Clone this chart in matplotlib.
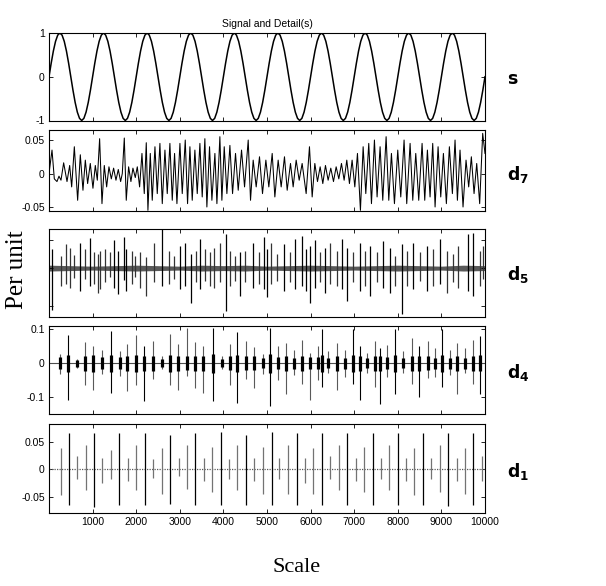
import numpy as np
import matplotlib
matplotlib.use("Agg")
import matplotlib.pyplot as plt

# ---------------- data ----------------
x_ticks = [1000, 2000, 3000, 4000, 5000, 6000, 7000, 8000, 9000, 10000]
x_ticklabels = ["1000", "2000", "3000", "4000", "5000", "6000", "7000", "8000", "9000", "10000"]

# s : sampled every 50 samples
s_step = 50
s_values = (
    [0.000, 0.309, 0.588, 0.809, 0.951, 1.000, 0.951, 0.809, 0.588, 0.309,
     0.000, -0.309, -0.588, -0.809, -0.951, -1.000, -0.951, -0.809, -0.588, -0.309] +
    [0.000, 0.309, 0.588, 0.809, 0.951, 1.000, 0.951, 0.809, 0.588, 0.309,
     0.000, -0.309, -0.588, -0.809, -0.951, -1.000, -0.951, -0.809, -0.588, -0.309] +
    [0.000, 0.309, 0.588, 0.809, 0.951, 1.000, 0.951, 0.809, 0.588, 0.309,
     0.000, -0.309, -0.588, -0.809, -0.951, -1.000, -0.951, -0.809, -0.588, -0.309] +
    [0.000, 0.309, 0.588, 0.809, 0.951, 1.000, 0.951, 0.809, 0.588, 0.309,
     0.000, -0.309, -0.588, -0.809, -0.951, -1.000, -0.951, -0.809, -0.588, -0.309] +
    [0.000, 0.309, 0.588, 0.809, 0.951, 1.000, 0.951, 0.809, 0.588, 0.309,
     0.000, -0.309, -0.588, -0.809, -0.951, -1.000, -0.951, -0.809, -0.588, -0.309] +
    [0.000, 0.309, 0.588, 0.809, 0.951, 1.000, 0.951, 0.809, 0.588, 0.309,
     0.000, -0.309, -0.588, -0.809, -0.951, -1.000, -0.951, -0.809, -0.588, -0.309] +
    [0.000, 0.309, 0.588, 0.809, 0.951, 1.000, 0.951, 0.809, 0.588, 0.309,
     0.000, -0.309, -0.588, -0.809, -0.951, -1.000, -0.951, -0.809, -0.588, -0.309] +
    [0.000, 0.309, 0.588, 0.809, 0.951, 1.000, 0.951, 0.809, 0.588, 0.309,
     0.000, -0.309, -0.588, -0.809, -0.951, -1.000, -0.951, -0.809, -0.588, -0.309] +
    [0.000, 0.309, 0.588, 0.809, 0.951, 1.000, 0.951, 0.809, 0.588, 0.309,
     0.000, -0.309, -0.588, -0.809, -0.951, -1.000, -0.951, -0.809, -0.588, -0.309] +
    [0.000, 0.309, 0.588, 0.809, 0.951, 1.000, 0.951, 0.809, 0.588, 0.309,
     0.000, -0.309, -0.588, -0.809, -0.951, -1.000, -0.951, -0.809, -0.588, -0.309] +
    [0.000]
)

# d7 : extrema positions (samples) and values
d7_x = [0, 69, 122, 183, 229, 275, 336, 413, 474, 520, 581, 657, 718, 779, 833, 886, 947,
        1008, 1062, 1108, 1161, 1215, 1268, 1322, 1375, 1429, 1482, 1536, 1589, 1643, 1681,
        1727, 1772, 1826, 1879, 1925, 1979, 2025, 2078, 2132, 2185, 2231, 2269, 2323, 2368,
        2430, 2483, 2544, 2598, 2659, 2712, 2773, 2827, 2880, 2934, 3003, 3056, 3125, 3178,
        3232, 3285, 3346, 3400, 3461, 3514, 3575, 3621, 3682, 3736, 3805, 3851, 3919, 3965,
        4019, 4080, 4149, 4210, 4278, 4340, 4416, 4485, 4569, 4622, 4683, 4752, 4828, 4897,
        4974, 5042, 5119, 5180, 5256, 5325, 5401, 5463, 5539, 5600, 5669, 5738, 5806, 5898,
        5974, 6036, 6097, 6158, 6219, 6280, 6341, 6402, 6463, 6525, 6586, 6647, 6708, 6769,
        6830, 6891, 6952, 7014, 7075, 7143, 7205, 7266, 7334, 7396, 7464, 7525, 7594, 7655,
        7732, 7793, 7854, 7923, 7999, 8068, 8144, 8205, 8282, 8343, 8412, 8480, 8557, 8618,
        8679, 8740, 8801, 8855, 8924, 8985, 9046, 9114, 9183, 9252, 9313, 9367, 9427, 9496,
        9565, 9626, 9687, 9749, 9810, 9878, 9947, 10000]
d7_y = [0.0, 0.035, -0.008, -0.012, -0.004, -0.010, 0.016, -0.012, 0.012, -0.020, 0.040,
        -0.040, 0.028, -0.025, 0.020, -0.015, 0.015, -0.022, 0.012, -0.010, 0.052, -0.045,
        0.012, -0.020, 0.010, -0.008, 0.008, -0.010, 0.006, -0.012, 0.000, 0.053, -0.040,
        0.010, -0.012, 0.008, -0.006, 0.010, -0.020, 0.030, -0.030, 0.046, -0.055, 0.030,
        -0.040, 0.040, -0.030, 0.045, -0.045, 0.035, -0.030, 0.045, -0.040, 0.030, -0.045,
        0.045, -0.030, 0.050, -0.045, 0.040, -0.040, 0.035, -0.030, 0.045, -0.035, 0.052,
        -0.050, 0.040, -0.040, 0.030, -0.045, 0.055, -0.040, 0.040, -0.030, 0.042, -0.030,
        0.030, -0.025, 0.035, -0.020, 0.050, -0.040, 0.020, -0.020, 0.025, -0.030, 0.020,
        -0.020, 0.030, -0.035, 0.020, -0.020, 0.025, -0.025, 0.015, -0.020, 0.020, -0.010,
        0.015, -0.030, 0.040, -0.035, 0.015, -0.012, 0.010, -0.015, 0.012, -0.010, 0.008,
        -0.012, 0.010, -0.008, 0.015, -0.010, 0.020, -0.015, 0.020, -0.020, 0.030, -0.055,
        0.040, -0.030, 0.045, -0.045, 0.050, -0.035, 0.040, -0.040, 0.055, -0.040, 0.030,
        -0.045, 0.035, -0.035, 0.050, -0.045, 0.045, -0.040, 0.030, -0.040, 0.045, -0.040,
        0.035, -0.035, 0.045, -0.050, 0.040, -0.035, 0.030, -0.045, 0.040, -0.030, 0.050,
        -0.040, 0.035, -0.050, 0.020, -0.020, 0.025, -0.030, 0.015, -0.045, 0.060, 0.030]

# d5 : background amplitude (every 500 samples) and spikes
d5_band_step = 500
d5_band = [0.006, 0.005, 0.004, 0.005, 0.006, 0.005, 0.004, 0.006, 0.005, 0.006, 0.004,
           0.005, 0.006, 0.005, 0.004, 0.005, 0.006, 0.005, 0.004, 0.006, 0.005]
d5_x = [69, 275, 397, 489, 581, 718, 833, 932, 1039, 1115, 1177, 1291, 1406, 1497, 1574,
        1727, 1772, 1902, 1979, 2093, 2231, 2399, 2582, 2743, 2857, 3010, 3125, 3255, 3377,
        3469, 3583, 3682, 3774, 3927, 4064, 4156, 4271, 4385, 4500, 4676, 4806, 4920, 4997,
        5088, 5226, 5379, 5531, 5631, 5799, 5898, 5990, 6104, 6219, 6334, 6448, 6601, 6716,
        6830, 6983, 7136, 7250, 7365, 7518, 7671, 7823, 7938, 8091, 8205, 8358, 8511, 8664,
        8817, 8969, 9122, 9260, 9390, 9619, 9734, 9886, 9962]
d5_top = [0.040, 0.024, 0.049, 0.042, 0.027, 0.052, 0.040, 0.062, 0.033, 0.029, 0.035,
          0.039, 0.032, 0.057, 0.035, 0.064, 0.039, 0.035, 0.024, 0.032, 0.022, 0.051,
          0.079, 0.035, 0.025, 0.045, 0.052, 0.029, 0.035, 0.059, 0.039, 0.032, 0.042,
          0.051, 0.069, 0.035, 0.025, 0.032, 0.035, 0.052, 0.032, 0.064, 0.039, 0.051,
          0.029, 0.049, 0.032, 0.059, 0.065, 0.039, 0.045, 0.057, 0.032, 0.042, 0.052,
          0.035, 0.059, 0.042, 0.032, 0.052, 0.035, 0.045, 0.032, 0.055, 0.042, 0.025,
          0.049, 0.035, 0.052, 0.032, 0.045, 0.039, 0.059, 0.035, 0.029, 0.045, 0.069,
          0.072, 0.035, 0.045]
d5_bot = [-0.086, -0.036, -0.033, -0.040, -0.021, -0.047, -0.022, -0.036, -0.033, -0.050,
          -0.043, -0.029, -0.019, -0.040, -0.053, -0.024, -0.047, -0.033, -0.019, -0.040,
          -0.058, -0.029, -0.036, -0.033, -0.022, -0.043, -0.036, -0.071, -0.029, -0.043,
          -0.026, -0.036, -0.040, -0.029, -0.088, -0.036, -0.026, -0.057, -0.029, -0.040,
          -0.033, -0.043, -0.060, -0.033, -0.026, -0.047, -0.029, -0.043, -0.036, -0.047,
          -0.071, -0.040, -0.029, -0.050, -0.033, -0.036, -0.043, -0.067, -0.029, -0.047,
          -0.036, -0.057, -0.029, -0.040, -0.050, -0.036, -0.093, -0.036, -0.043, -0.026,
          -0.047, -0.036, -0.033, -0.050, -0.029, -0.040, -0.047, -0.057, -0.036, -0.022]

# d4 : bursts (position, tall spike top, tall spike bottom, core half-height)
d4_x = [252, 443, 650, 826, 1017, 1208, 1422, 1629, 1797, 1996, 2179, 2393, 2585, 2776,
        2967, 3158, 3349, 3541, 3755, 3962, 4152, 4320, 4519, 4703, 4902, 5058, 5241, 5432,
        5608, 5799, 5990, 6181, 6257, 6410, 6601, 6792, 6983, 7136, 7289, 7480, 7594, 7747,
        7938, 8129, 8320, 8496, 8687, 8855, 9008, 9198, 9351, 9542, 9734, 9886]
d4_top = [0.027, 0.082, 0.012, 0.064, 0.052, 0.040, 0.094, 0.037, 0.057, 0.082, 0.052,
          0.067, 0.022, 0.087, 0.057, 0.105, 0.062, 0.052, 0.105, 0.022, 0.057, 0.092,
          0.067, 0.047, 0.027, 0.105, 0.050, 0.060, 0.040, 0.070, 0.030, 0.050, 0.100,
          0.035, 0.060, 0.040, 0.100, 0.050, 0.030, 0.065, 0.045, 0.055, 0.100, 0.035,
          0.075, 0.050, 0.065, 0.045, 0.100, 0.040, 0.060, 0.045, 0.070, 0.080]
d4_bot = [-0.033, -0.110, -0.013, -0.063, -0.078, -0.033, -0.088, -0.038, -0.083, -0.063,
          -0.113, -0.048, -0.018, -0.063, -0.078, -0.038, -0.073, -0.088, -0.113, -0.018,
          -0.063, -0.118, -0.048, -0.073, -0.033, -0.125, -0.050, -0.090, -0.035, -0.060,
          -0.110, -0.050, -0.070, -0.030, -0.080, -0.040, -0.060, -0.110, -0.030, -0.070,
          -0.120, -0.040, -0.090, -0.030, -0.060, -0.100, -0.045, -0.040, -0.070, -0.035,
          -0.090, -0.030, -0.060, -0.090]
d4_core = [0.018, 0.025, 0.010, 0.022, 0.025, 0.018, 0.025, 0.018, 0.022, 0.025, 0.022,
           0.022, 0.012, 0.025, 0.022, 0.020, 0.022, 0.022, 0.028, 0.012, 0.020, 0.025,
           0.020, 0.020, 0.015, 0.028, 0.018, 0.022, 0.016, 0.022, 0.018, 0.018, 0.025,
           0.015, 0.022, 0.016, 0.025, 0.022, 0.014, 0.022, 0.022, 0.018, 0.025, 0.015,
           0.022, 0.022, 0.020, 0.016, 0.025, 0.016, 0.022, 0.016, 0.022, 0.024]

# d1 : spikes (position, top, bottom)
d1_x = [268, 466, 650, 841, 1032, 1224, 1415, 1614, 1805, 1996, 2195, 2393, 2585, 2776,
        2975, 3158, 3357, 3556, 3747, 3938, 4129, 4320, 4519, 4710, 4902, 5108, 5284, 5490,
        5682, 5873, 6064, 6255, 6446, 6653, 6844, 7035, 7226, 7440, 7616, 7807, 7998, 8190,
        8381, 8587, 8763, 8970, 9161, 9352, 9543, 9734, 9925]
d1_top = [0.038, 0.066, 0.024, 0.044, 0.066, 0.021, 0.035, 0.066, 0.021, 0.044, 0.066,
          0.018, 0.038, 0.062, 0.021, 0.044, 0.066, 0.021, 0.040, 0.068, 0.018, 0.044,
          0.062, 0.021, 0.041, 0.068, 0.021, 0.044, 0.066, 0.021, 0.038, 0.066, 0.024,
          0.044, 0.066, 0.021, 0.041, 0.066, 0.021, 0.044, 0.066, 0.021, 0.038, 0.066,
          0.021, 0.044, 0.066, 0.021, 0.038, 0.066, 0.024]
d1_bot = [-0.047, -0.064, -0.018, -0.038, -0.068, -0.024, -0.018, -0.065, -0.021, -0.038,
          -0.065, -0.015, -0.044, -0.062, -0.012, -0.035, -0.065, -0.021, -0.041, -0.065,
          -0.018, -0.038, -0.065, -0.021, -0.044, -0.065, -0.018, -0.044, -0.064, -0.024,
          -0.044, -0.065, -0.018, -0.038, -0.065, -0.021, -0.041, -0.064, -0.018, -0.038,
          -0.065, -0.021, -0.047, -0.065, -0.018, -0.041, -0.066, -0.021, -0.044, -0.065,
          -0.021]

# ---------------- figure ----------------
W, H = 606, 586
fig = plt.figure(figsize=(W / 100, H / 100), dpi=100)

left_px, right_px = 49, 485
panels_px = [(33, 120.5), (130, 211), (229, 317), (326, 414), (424, 513)]


def make_ax(top, bot):
    return fig.add_axes([left_px / W, 1 - bot / H, (right_px - left_px) / W, (bot - top) / H])


axes = [make_ax(t, b) for t, b in panels_px]

for i, ax in enumerate(axes):
    ax.set_xlim(0, 10000)
    ax.set_xticks(x_ticks)
    ax.tick_params(axis="both", direction="in", length=3, width=0.6, top=True, right=True,
                   labelsize=7.5, pad=3)
    for sp in ax.spines.values():
        sp.set_linewidth(0.8)
    if i < 4:
        ax.set_xticklabels([])
    else:
        ax.set_xticklabels(x_ticklabels, fontfamily="Liberation Sans")

# s
ax = axes[0]
s_x = np.arange(len(s_values)) * s_step
ax.plot(s_x, s_values, color="k", lw=1.1)
ax.set_ylim(-1, 1)
ax.set_yticks([-1, 0, 1])
ax.set_yticklabels(["-1", "0", "1"], fontfamily="Liberation Sans")
ax.set_title("Signal and Detail(s)", fontsize=7.5, fontfamily="Liberation Sans", pad=4)

# d7
ax = axes[1]
ax.plot(d7_x, d7_y, color="k", lw=0.75)
ax.set_ylim(-0.056, 0.065)
ax.set_yticks([-0.05, 0, 0.05])
ax.set_yticklabels(["-0.05", "0", "0.05"], fontfamily="Liberation Sans")

# d5
ax = axes[2]
band_x = np.arange(len(d5_band)) * d5_band_step
band = np.array(d5_band)
ax.fill_between(band_x, -band, band, color="0.35", lw=0)
d5_cols = ["k" if (t - b) > 0.085 else "0.2" for t, b in zip(d5_top, d5_bot)]
ax.vlines(d5_x, d5_bot, d5_top, colors=d5_cols, lw=0.9)
ax.set_ylim(-0.1, 0.08)
ax.set_yticks([-0.078, 0, 0.058])
ax.set_yticklabels([])

# d4
ax = axes[3]
ax.axhline(0, color="0.3", lw=0.8)
d4_cols = ["k" if (t - b) > 0.15 else "0.35" for t, b in zip(d4_top, d4_bot)]
ax.vlines(d4_x, d4_bot, d4_top, colors=d4_cols, lw=0.8)
core = np.array(d4_core)
ax.vlines(d4_x, -core, core, colors="k", lw=2.3)
ax.set_ylim(-0.15, 0.11)
ax.set_yticks([-0.1, 0, 0.1])
ax.set_yticklabels(["-0.1", "0", "0.1"], fontfamily="Liberation Sans")

# d1
ax = axes[4]
ax.axhline(0, color="0.35", lw=0.9, ls=(0, (1, 1)))
d1_cols = ["k" if t > 0.05 else "0.45" for t in d1_top]
ax.vlines(d1_x, d1_bot, d1_top, colors=d1_cols, lw=0.9)
ax.set_ylim(-0.079, 0.082)
ax.set_yticks([-0.05, 0, 0.05])
ax.set_yticklabels(["-0.05", "0", "0.05"], fontfamily="Liberation Sans")

# right-hand labels
right_labels = [r"$\mathbf{s}$", r"$\mathbf{d}_{\mathbf{7}}$", r"$\mathbf{d}_{\mathbf{5}}$",
                r"$\mathbf{d}_{\mathbf{4}}$", r"$\mathbf{d}_{\mathbf{1}}$"]
label_y = [0.47, 0.45, 0.48, 0.47, 0.47]
for ax, lab, yy in zip(axes, right_labels, label_y):
    ax.text(1.05, yy, lab, transform=ax.transAxes, fontsize=12.5, ha="left", va="center")

fig.text(17 / W, 1 - 270 / H, "Per unit", rotation=90, ha="center", va="center",
         fontsize=18, fontfamily="Liberation Serif")
fig.text(297 / W, 1 - 567 / H, "Scale", ha="center", va="center",
         fontsize=16, fontfamily="Liberation Serif")

fig.savefig("out.png", dpi=100)
